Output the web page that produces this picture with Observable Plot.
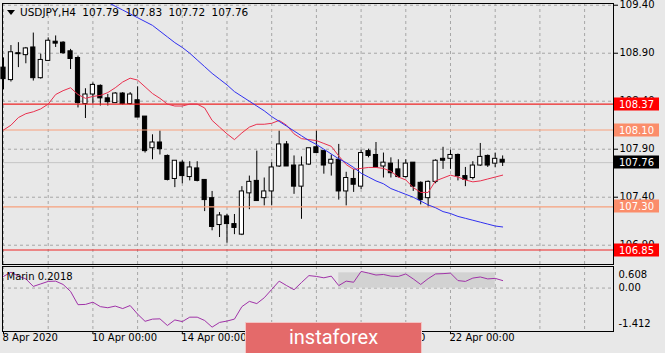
<!DOCTYPE html>
<html><head><meta charset="utf-8">
<script src="https://cdn.jsdelivr.net/npm/d3@7"></script>
<script src="https://cdn.jsdelivr.net/npm/@observablehq/plot@0.6"></script>
<style>
body{margin:0;background:#e8e8e8;}
#wrap{position:relative;width:665px;height:353px;overflow:hidden;background:#e8e8e8;font-family:"DejaVu Sans",sans-serif;}
#main{position:absolute;left:0;top:0;}
#ind{position:absolute;left:0;top:264px;}
#tri{position:absolute;left:7px;top:10px;width:0;height:0;border-left:4px solid transparent;border-right:4px solid transparent;border-top:5px solid #000;}
#title{position:absolute;left:20px;top:6px;font-size:10.5px;line-height:12px;color:#000;word-spacing:3px;white-space:pre;}
#logo{position:absolute;left:245px;top:322px;width:177px;height:31px;box-sizing:border-box;background:#e46a6a;border:1px solid #f3c4c4;border-bottom:none;color:#fff;font-family:Roboto,sans-serif;font-size:20px;line-height:29px;text-align:center;}
</style></head>
<body><div id="wrap"><div id="main"></div><div id="ind"></div><div id="tri"></div><div id="title"></div><div id="logo">instaforex</div></div>
<script>
const title = "USDJPY,H4 107.79 107.83 107.72 107.76";
const open  = [108.75,108.62,108.90,108.88,108.96,108.64,108.82,109.02,109.01,108.92,108.85,108.37,108.47,108.56,108.43,108.38,108.48,108.37,108.41,108.24,107.91,107.97,107.83,107.59,107.76,107.61,107.70,107.58,107.39,107.11,107.20,107.12,107.01,107.44,107.57,107.39,107.46,107.72,107.95,107.73,107.51,107.74,107.92,107.88,107.75,107.79,107.46,107.59,107.51,107.88,107.84,107.72,107.75,107.69,107.61,107.76,107.55,107.39,107.56,107.80,107.80,107.84,107.62,107.60,107.73,107.83,107.75,107.79];
const high  = [108.85,108.98,109.01,108.96,109.11,108.89,109.06,109.08,109.02,108.94,108.87,108.53,108.59,108.57,108.47,108.49,108.49,108.49,108.55,108.24,108.05,108.09,107.84,107.78,107.78,107.77,107.77,107.58,107.46,107.24,107.22,107.22,107.51,107.62,107.88,107.60,107.76,108.09,107.98,107.83,107.82,107.91,108.09,107.88,107.84,107.95,107.66,107.69,107.89,107.90,107.97,107.86,107.81,107.79,107.79,107.76,107.56,107.57,107.79,107.92,107.89,107.85,107.71,107.77,107.96,107.84,107.86,107.83];
const low   = [108.52,108.60,108.75,108.79,108.61,108.63,108.82,108.96,108.89,108.73,108.33,108.22,108.37,108.35,108.35,108.38,108.36,108.36,108.23,107.86,107.79,107.84,107.57,107.50,107.54,107.57,107.56,107.25,107.05,106.98,106.92,107.01,107.00,107.27,107.36,107.31,107.31,107.71,107.72,107.43,107.17,107.73,107.86,107.64,107.62,107.37,107.31,107.45,107.48,107.81,107.71,107.60,107.60,107.60,107.60,107.46,107.32,107.29,107.54,107.69,107.69,107.57,107.51,107.58,107.72,107.71,107.71,107.72];
const close = [108.63,108.91,108.89,108.95,108.64,108.83,109.03,109.00,108.90,108.84,108.38,108.47,108.57,108.43,108.39,108.48,108.37,108.47,108.23,107.88,107.97,107.90,107.58,107.78,107.62,107.71,107.57,107.37,107.09,107.21,107.12,107.08,107.46,107.56,107.36,107.46,107.71,107.95,107.72,107.51,107.73,107.91,107.86,107.73,107.79,107.46,107.60,107.53,107.86,107.83,107.71,107.76,107.65,107.61,107.75,107.51,107.37,107.56,107.78,107.78,107.84,107.62,107.58,107.73,107.82,107.73,107.80,107.76];
const maFast = [108.10,108.15,108.23,108.27,108.29,108.32,108.37,108.47,108.51,108.54,108.47,108.43,108.45,108.46,108.49,108.54,108.60,108.64,108.62,108.55,108.48,108.43,108.37,108.35,108.35,108.37,108.37,108.33,108.20,108.13,108.06,108.00,108.07,108.13,108.16,108.16,108.17,108.20,108.15,108.06,108.01,108.00,107.99,107.96,107.93,107.83,107.74,107.69,107.70,107.71,107.71,107.70,107.67,107.61,107.58,107.50,107.45,107.45,107.57,107.60,107.63,107.61,107.58,107.56,107.57,107.59,107.61,107.63];
const maSlow = [null,null,null,null,null,null,null,null,null,null,null,null,109.51,109.47,109.43,109.39,109.35,109.31,109.27,109.23,109.19,109.13,109.07,109.01,108.96,108.90,108.83,108.76,108.69,108.63,108.57,108.50,108.45,108.40,108.35,108.30,108.24,108.19,108.14,108.09,108.04,107.99,107.95,107.90,107.85,107.80,107.76,107.71,107.65,107.61,107.57,107.54,107.49,107.46,107.43,107.40,107.36,107.32,107.29,107.25,107.23,107.20,107.18,107.16,107.14,107.12,107.10,107.09];
const marin = [0.42,0.57,0.43,0.33,0.06,0.15,0.24,0.25,0.13,-0.12,-0.60,-0.59,-0.51,-0.67,-0.71,-0.65,-0.74,-0.63,-0.94,-1.20,-1.12,-1.11,-1.35,-1.15,-1.21,-1.05,-1.05,-1.17,-1.41,-1.24,-1.19,-1.12,-0.67,-0.48,-0.56,-0.35,-0.05,0.25,0.09,-0.06,0.20,0.45,0.42,0.37,0.43,0.09,0.25,0.21,0.60,0.54,0.47,0.49,0.43,0.42,0.51,0.33,0.13,0.34,0.51,0.52,0.54,0.27,0.24,0.36,0.40,0.33,0.35,0.27];
const priceTicks = [109.40,108.90,108.40,107.90,107.40,106.90];
const dayGrid = [0,6,12,18,24,30,36,42,48,54,60,66,72,78];
const xLabelIdx = [0,12,24,36,48,60];
const xLabels = ["8 Apr 2020","10 Apr 00:00","14 Apr 00:00","16 Apr 00:00","20 Apr 00:00","22 Apr 00:00"];
const levelPrices = [108.37,108.10,107.30,106.85];
const levelLineColors = ["#ee2424","#f7a07c","#f7a07c","#ee2424"];
const levelBoxColors = ["#ff0000","#fb8d6a","#fb8d6a","#ff0000"];
const lastPrice = 107.76;
const indTicks = [0.608,0,-1.412];
const indTickLabels = ["0.608","0.00","-1.412"];
const indName = "Marin 0.2018";
const histStart = 45, histEnd = 66, histTop = 0.55;

document.getElementById("title").textContent = title;

const candles = open.map((o,i)=>({i, o, h: high[i], l: low[i], c: close[i]}));
const idx = d3.range(open.length);
const xDomain = [-0.134, 81.88];
const FONT = "DejaVu Sans";
const dash = {stroke:"#a6a6a6", strokeDasharray:"3,3", strokeWidth:1};

const main = Plot.plot({
  width:665, height:264, marginLeft:2, marginRight:52, marginTop:3, marginBottom:0,
  style:{background:"transparent", fontFamily:FONT, fontSize:"10px", color:"#000", overflow:"visible"},
  x:{domain:xDomain, axis:null},
  y:{domain:[106.699,109.418], axis:"right", ticks:priceTicks, tickFormat:d=>d.toFixed(2), tickSize:4, tickPadding:2, label:null},
  marks:[
    Plot.ruleY(priceTicks, dash),
    Plot.ruleX(dayGrid, dash),
    Plot.ruleY([lastPrice], {stroke:"#c4c4c4"}),
    Plot.ruleX(candles, {x:"i", y1:"l", y2:"h", stroke:"#000"}),
    Plot.rect(candles, {x1:d=>d.i-0.28, x2:d=>d.i+0.28, y1:"o", y2:"c", fill:d=>d.c>=d.o?"#fff":"#000", stroke:"#000", strokeWidth:1}),
    ...levelPrices.map((p,k)=>Plot.ruleY([p], {stroke:levelLineColors[k], strokeWidth:1.2})),
    Plot.line(idx, {x:i=>i, y:i=>maFast[i], stroke:"#e8304e", strokeWidth:1}),
    Plot.line(idx.filter(i=>maSlow[i]!=null), {x:i=>i, y:i=>maSlow[i], stroke:"#3030f0", strokeWidth:1, clip:true}),
    Plot.frame({stroke:"#000"})
  ]
});
document.getElementById("main").appendChild(main);

// price label boxes on the right axis
const ys = main.scale("y");
const lab = d3.select(main).append("g").attr("font-family",FONT).attr("font-size",10).attr("text-anchor","start");
const boxX = 665 - 52 + 1;
[...levelPrices.map((p,k)=>({p, bg:levelBoxColors[k]})), {p:lastPrice, bg:"#000"}].forEach(d=>{
  const y = Math.round(ys.apply(d.p));
  lab.append("rect").attr("x",boxX).attr("y",y-6.5).attr("width",45).attr("height",13).attr("fill",d.bg);
  lab.append("text").attr("x",boxX+5).attr("y",y).attr("dy","0.35em").attr("text-anchor","start").attr("fill","#fff").text(d.p.toFixed(2));
});

const ind = Plot.plot({
  width:665, height:89, marginLeft:2, marginRight:52, marginTop:2, marginBottom:22,
  style:{background:"transparent", fontFamily:FONT, fontSize:"10px", color:"#000", overflow:"visible"},
  x:{domain:xDomain, axis:null},
  y:{domain:[-1.567,0.778], axis:null},
  marks:[
    Plot.ruleX(dayGrid, dash),
    Plot.ruleY([0], dash),
    Plot.rect([{a:histStart,b:histEnd,t:histTop}], {x1:"a", x2:"b", y1:0, y2:"t", fill:"#d2d2d2"}),
    Plot.line(idx, {x:i=>i, y:i=>marin[i], stroke:"#a032a8", strokeWidth:1}),
    Plot.text([indName], {frameAnchor:"top-left", dx:4, dy:6, fill:"#000"}),
    ...indTicks.map((t,k)=>Plot.text([t], {y:d=>d, text:[indTickLabels[k]], frameAnchor:"right", textAnchor:"start", dx:5, dy:k===0?3.5:(k===2?-3.5:-0.5), fill:"#000"})),
    Plot.ruleX(xLabelIdx, {x:d=>d, insetTop:62, dy:3, stroke:"#000"}),
    Plot.text(xLabelIdx, {x:d=>d, text:(d,i)=>xLabels[i], frameAnchor:"bottom", textAnchor:"start", dy:9, dx:-1, fill:"#000"}),
    Plot.frame({stroke:"#000"})
  ]
});
document.getElementById("ind").appendChild(ind);
</script></body></html>
